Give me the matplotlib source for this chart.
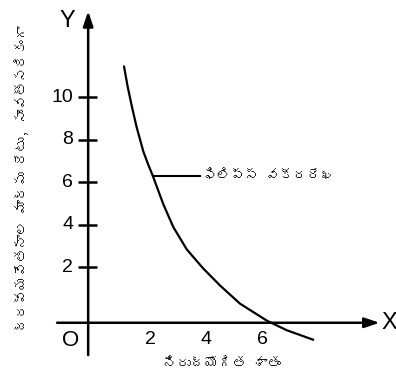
import matplotlib
matplotlib.use("Agg")
import matplotlib.pyplot as plt
from matplotlib import font_manager
from matplotlib.ft2font import FT2Font

# ---- data ----
unemployment = [1.07, 1.2, 1.35, 1.52, 1.76, 1.93, 2.10, 2.24, 2.48, 2.83, 3.31, 3.90, 4.50, 5.21, 6.17, 6.88, 7.83]
wage_change = [11.45, 10.5, 9.57, 8.6, 7.45, 6.85, 6.3, 5.8, 4.95, 3.9, 2.85, 1.95, 1.15, 0.3, -0.5, -0.95, -1.4]
x_ticks = [2, 4, 6]
y_ticks = [2, 4, 6, 8, 10]
y_label = "ద్రవ్యవేతనాల మార్పు రేటు, సాంవత్సరికంగా"
x_label = "నిరుద్యోగిత శాతం"
curve_label = "ఫిలిప్స్ వక్రరేఖ"
curve_label_point = (2.10, 6.3)

# ---- find a font with Telugu glyphs ----
telugu_font = None
for path in sorted(font_manager.findSystemFonts()):
    try:
        f = FT2Font(path)
        if 0x0C15 in f.get_charmap():
            font_manager.fontManager.addfont(path)
            telugu_font = font_manager.FontProperties(fname=path).get_name()
            break
    except Exception:
        pass
tel_family = [telugu_font, "DejaVu Sans"] if telugu_font else ["DejaVu Sans"]

num_family = ["Liberation Sans Narrow", "Liberation Sans", "DejaVu Sans"]

fig = plt.figure(figsize=(3.96, 3.80), dpi=100)
ax = fig.add_axes([40/396, 20/380, 345/396, 350/380])
ax.set_xlim(-1.93, 10.39)
ax.set_ylim(-2.35, 14.1)
ax.axis("off")

x_axis_y = -0.6
y_axis_x = -0.21

# axes with arrows
ax.annotate("", xy=(10.2, x_axis_y), xytext=(-1.32, x_axis_y),
            arrowprops=dict(arrowstyle="-|>,head_length=0.9,head_width=0.3", lw=1.8, color="black",
                            shrinkA=0, shrinkB=0))
ax.annotate("", xy=(y_axis_x, 14.05), xytext=(y_axis_x, -2.12),
            arrowprops=dict(arrowstyle="-|>,head_length=0.9,head_width=0.3", lw=1.8, color="black",
                            shrinkA=0, shrinkB=0))

# y ticks
for yv in y_ticks:
    ax.plot([-0.57, 0.11], [yv, yv], color="black", lw=1.8, solid_capstyle="butt")
    ax.text(-0.75, yv, str(yv), ha="right", va="center", fontsize=14, family=num_family)

for xv in x_ticks:
    ax.text(xv, -1.4, str(xv), ha="center", va="center", fontsize=14, family=num_family)

ax.text(-0.85, -1.45, "O", ha="center", va="center", fontsize=16, family=num_family)
ax.text(-0.95, 13.6, "Y", ha="center", va="center", fontsize=17, family=num_family)
ax.text(10.55, -0.6, "X", ha="center", va="center", fontsize=17, family=num_family)

# curve
ax.plot(unemployment, wage_change, color="black", lw=1.6, solid_capstyle="round", solid_joinstyle="round")

# leader + label
ax.plot([curve_label_point[0], 3.8], [curve_label_point[1], curve_label_point[1]], color="black", lw=1.5)
t_curve = ax.text(3.9, curve_label_point[1], curve_label, ha="left", va="center", fontsize=10, family=tel_family)
t_x = ax.text(4.58, -2.5, x_label, ha="center", va="center", fontsize=10, family=tel_family)
t_y = ax.text(-2.6, 6.2, y_label, ha="center", va="center", rotation=90, fontsize=10, family=tel_family,
              clip_on=False)

# fit Telugu texts to the space they take in the reference
fig.canvas.draw()
renderer = fig.canvas.get_renderer()
for t, target, vertical in [(t_curve, 180, False), (t_x, 160, False), (t_y, 320, True)]:
    bb = t.get_window_extent(renderer)
    size = bb.height if vertical else bb.width
    t.set_fontsize(min(10, 10 * target / size))

fig.savefig("out.png", dpi=100)
